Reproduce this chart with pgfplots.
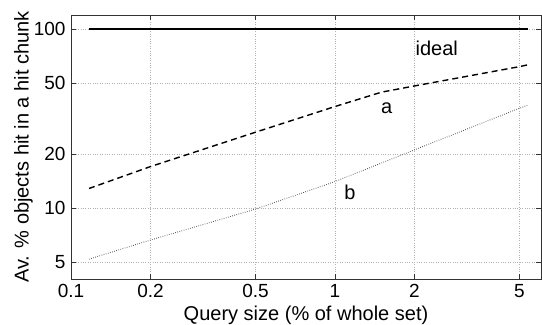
\documentclass[border=0pt]{standalone}
\usepackage{pgfplots}
\pgfplotsset{compat=1.18}
\usepackage{fontspec}
\setmainfont{Liberation Sans}
\begin{document}
\begin{tikzpicture}
\begin{loglogaxis}[
  scale only axis,
  width=470pt, height=264pt,
  xmin=0.1, xmax=6.03,
  ymin=4.03, ymax=120,
  xtick={0.1,0.2,0.5,1,2,5},
  xticklabels={0.1,0.2,0.5,1,2,5},
  ytick={5,10,20,50,100},
  yticklabels={5,10,20,50,100},
  minor xtick={}, minor ytick={},
  tick align=inside,
  major tick length=5pt,
  tick style={black!80, line width=0.6pt},
  axis line style={black!80, line width=0.8pt},
  grid=major,
  major grid style={dotted, gray!60, line width=0.6pt},
  /pgf/number format/assume math mode=true,
  tick label style={font=\fontsize{19}{22}\selectfont},
  label style={font=\fontsize{20}{23}\selectfont},
  xticklabel style={yshift=-2pt},
  yticklabel style={xshift=-2pt},
  xlabel={Query size (\% of whole set)},
  ylabel={Av. \% objects hit in a hit chunk},
  xlabel style={yshift=-1.5pt},
  ylabel style={yshift=-6pt},
]
\addplot[black, line width=1.4pt] coordinates {(0.117,100) (5.36,100)};
\addplot[black, line width=1.4pt, dash pattern=on 6pt off 4pt] coordinates {
 (0.117,12.9) (0.2,17.1) (0.5,26.6) (1,37) (1.5,44.5) (2,48.2) (5,61.8) (5.36,63.2)};
\addplot[black!75, line width=0.9pt, dash pattern=on 0.6pt off 1.6pt] coordinates {
 (0.117,5.2) (0.2,6.65) (0.5,9.9) (1,14.1) (2,21.2) (5,36.2) (5.36,37.6)};
\node[font=\fontsize{20}{23}\selectfont] at (axis cs:2.43,78.6) {ideal};
\node[font=\fontsize{20}{23}\selectfont] at (axis cs:1.57,36.3) {a};
\node[font=\fontsize{20}{23}\selectfont] at (axis cs:1.14,12.2) {b};
\coordinate (sw) at (rel axis cs:0,0);
\coordinate (ne) at (rel axis cs:1,1);
\end{loglogaxis}
\pgfresetboundingbox
\path[use as bounding box] ([shift={(-71pt,-45pt)}]sw) rectangle ([shift={(1pt,15pt)}]ne);
\end{tikzpicture}
\end{document}
